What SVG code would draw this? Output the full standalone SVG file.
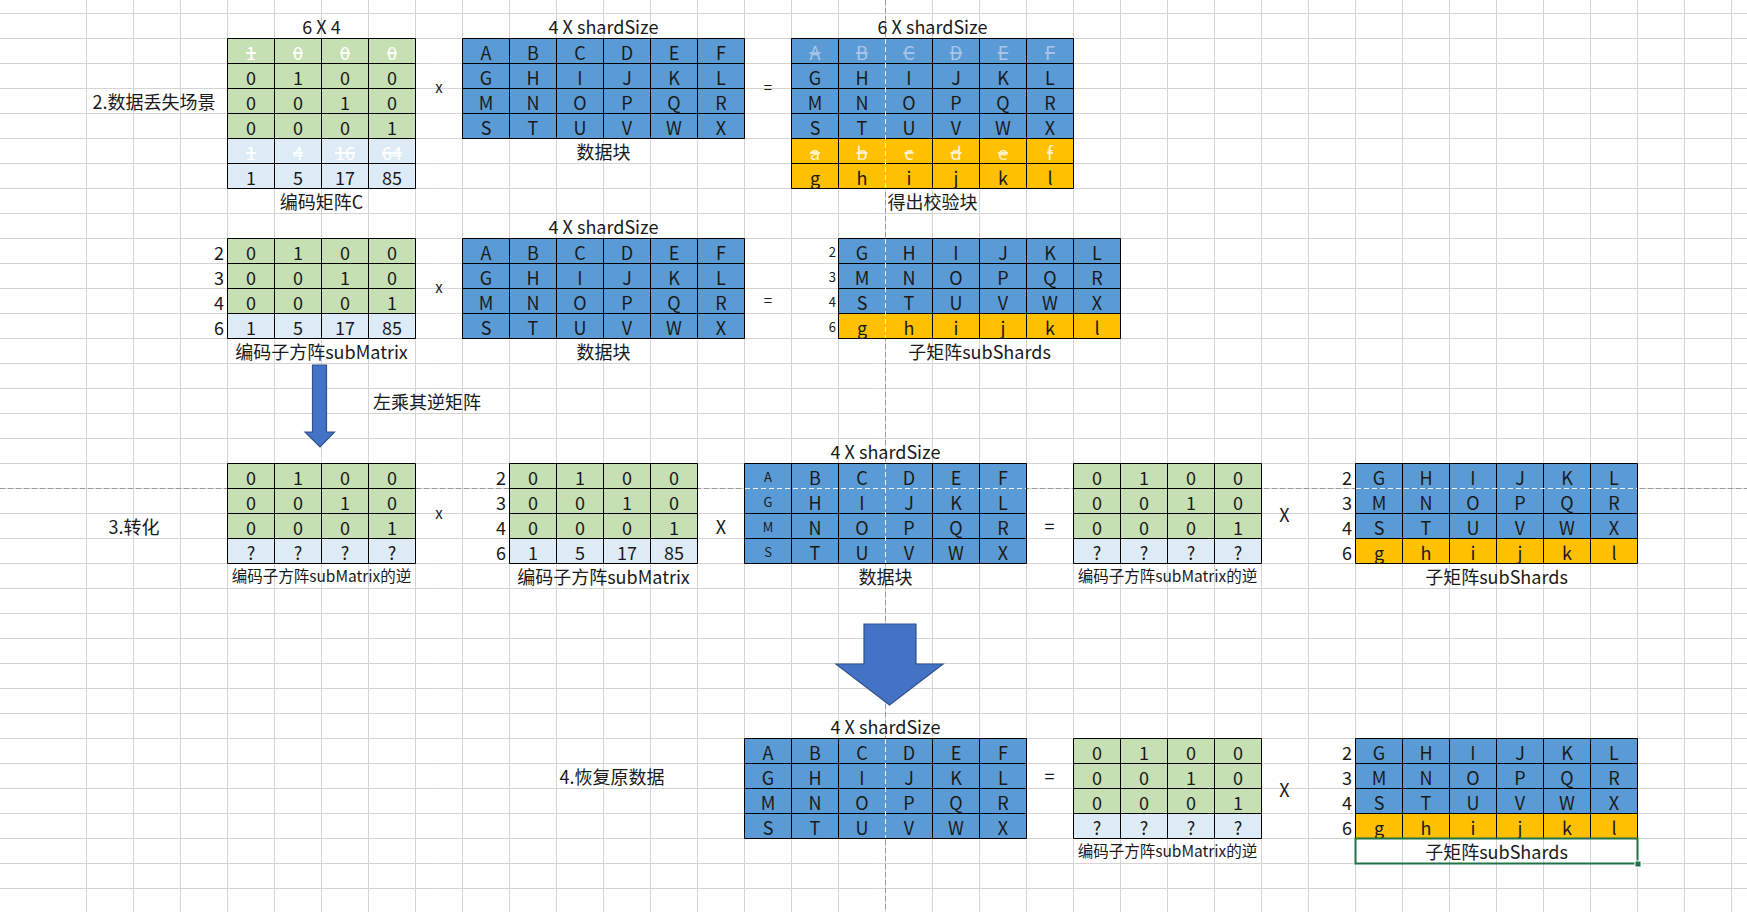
<svg xmlns="http://www.w3.org/2000/svg" width="1747" height="912" viewBox="0 0 1747 912">
<style>
text{font-family:"Noto Sans CJK SC","Noto Sans",sans-serif;font-size:18px;fill:#1a1a1a;text-anchor:middle}
.g{fill:#C6E0B4}.lb{fill:#DDEBF7}.b{fill:#5B9BD5}.o{fill:#FFC000}
.bd{fill:none;stroke:#000;stroke-width:1}
.wd{fill:none;stroke:#f2f2f2;stroke-width:1;stroke-dasharray:5 3}
.st{text-decoration:line-through}
text.w{fill:#ffffff}text.lt{fill:#a9c6ea}text.lo{fill:#fff4d6}
text.sm{font-size:15.5px}text.xs{font-size:13px}text.op{font-size:15px}
text.r{text-anchor:end}text.l{text-anchor:start}
.arr{fill:#4472C4;stroke:#2F528F;stroke-width:1.2}
</style>
<defs>
<pattern id="gh" x="0" y="13" width="1747" height="25" patternUnits="userSpaceOnUse"><path d="M0 0.5H1747" stroke="#d4d4d4" stroke-width="1"/></pattern>
<pattern id="gv" x="86" y="0" width="47" height="912" patternUnits="userSpaceOnUse"><path d="M0.5 0V912" stroke="#d4d4d4" stroke-width="1"/></pattern>
</defs>
<rect width="1747" height="912" fill="#ffffff"/>
<rect width="1747" height="912" fill="url(#gh)"/>
<rect x="86" width="1661" height="912" fill="url(#gv)"/>
<path d="M885.5 0V912M0 488.5H1747" fill="none" stroke="#9a9a9a" stroke-width="1" stroke-dasharray="5 3"/>

<!-- Section labels -->
<text x="154" y="108.5">2.数据丢失场景</text>
<text x="134" y="534">3.转化</text>
<text x="612" y="784">4.恢复原数据</text>
<text class="l" x="373" y="409">左乘其逆矩阵</text>

<!-- Section 1 -->
<g id="m1C">
<rect class="g" x="227.5" y="38.5" width="188" height="100"/>
<rect class="lb" x="227.5" y="138.5" width="188" height="50"/>
<path class="bd" d="M227.5 38.5H415.5V188.5H227.5Z M274.5 38.5V188.5 M321.5 38.5V188.5 M368.5 38.5V188.5 M227.5 63.5H415.5 M227.5 88.5H415.5 M227.5 113.5H415.5 M227.5 138.5H415.5 M227.5 163.5H415.5"/>
<text x="321.5" y="34">6 X 4</text>
<text class="st w" x="251" y="60">1</text><text class="st w" x="298" y="60">0</text><text class="st w" x="345" y="60">0</text><text class="st w" x="392" y="60">0</text>
<text x="251" y="85">0</text><text x="298" y="85">1</text><text x="345" y="85">0</text><text x="392" y="85">0</text>
<text x="251" y="110">0</text><text x="298" y="110">0</text><text x="345" y="110">1</text><text x="392" y="110">0</text>
<text x="251" y="135">0</text><text x="298" y="135">0</text><text x="345" y="135">0</text><text x="392" y="135">1</text>
<text class="st w" x="251" y="160">1</text><text class="st w" x="298" y="160">4</text><text class="st w" x="345" y="160">16</text><text class="st w" x="392" y="160">64</text>
<text x="251" y="185">1</text><text x="298" y="185">5</text><text x="345" y="185">17</text><text x="392" y="185">85</text>
<text x="321.5" y="209">编码矩阵C</text>
</g>
<g id="m1D">
<rect class="b" x="462.5" y="38.5" width="282" height="100"/>
<path class="bd" d="M462.5 38.5H744.5V138.5H462.5Z M509.5 38.5V138.5 M556.5 38.5V138.5 M603.5 38.5V138.5 M650.5 38.5V138.5 M697.5 38.5V138.5 M462.5 63.5H744.5 M462.5 88.5H744.5 M462.5 113.5H744.5"/>
<text x="603.5" y="34">4 X shardSize</text>
<text x="486" y="60">A</text><text x="533" y="60">B</text><text x="580" y="60">C</text><text x="627" y="60">D</text><text x="674" y="60">E</text><text x="721" y="60">F</text>
<text x="486" y="85">G</text><text x="533" y="85">H</text><text x="580" y="85">I</text><text x="627" y="85">J</text><text x="674" y="85">K</text><text x="721" y="85">L</text>
<text x="486" y="110">M</text><text x="533" y="110">N</text><text x="580" y="110">O</text><text x="627" y="110">P</text><text x="674" y="110">Q</text><text x="721" y="110">R</text>
<text x="486" y="135">S</text><text x="533" y="135">T</text><text x="580" y="135">U</text><text x="627" y="135">V</text><text x="674" y="135">W</text><text x="721" y="135">X</text>
<text x="603.5" y="159">数据块</text>
</g>
<g id="m1R">
<rect class="b" x="791.5" y="38.5" width="282" height="100"/>
<rect class="o" x="791.5" y="138.5" width="282" height="50"/>
<path class="bd" d="M791.5 38.5H1073.5V188.5H791.5Z M838.5 38.5V188.5 M932.5 38.5V188.5 M979.5 38.5V188.5 M1026.5 38.5V188.5 M791.5 63.5H1073.5 M791.5 88.5H1073.5 M791.5 113.5H1073.5 M791.5 138.5H1073.5 M791.5 163.5H1073.5"/>
<path class="wd" d="M885.5 39V188"/>
<text x="932.5" y="34">6 X shardSize</text>
<text class="st lt" x="815" y="60">A</text><text class="st lt" x="862" y="60">B</text><text class="st lt" x="909" y="60">C</text><text class="st lt" x="956" y="60">D</text><text class="st lt" x="1003" y="60">E</text><text class="st lt" x="1050" y="60">F</text>
<text x="815" y="85">G</text><text x="862" y="85">H</text><text x="909" y="85">I</text><text x="956" y="85">J</text><text x="1003" y="85">K</text><text x="1050" y="85">L</text>
<text x="815" y="110">M</text><text x="862" y="110">N</text><text x="909" y="110">O</text><text x="956" y="110">P</text><text x="1003" y="110">Q</text><text x="1050" y="110">R</text>
<text x="815" y="135">S</text><text x="862" y="135">T</text><text x="909" y="135">U</text><text x="956" y="135">V</text><text x="1003" y="135">W</text><text x="1050" y="135">X</text>
<text class="st lo" x="815" y="160">a</text><text class="st lo" x="862" y="160">b</text><text class="st lo" x="909" y="160">c</text><text class="st lo" x="956" y="160">d</text><text class="st lo" x="1003" y="160">e</text><text class="st lo" x="1050" y="160">f</text>
<text x="815" y="185">g</text><text x="862" y="185">h</text><text x="909" y="185">i</text><text x="956" y="185">j</text><text x="1003" y="185">k</text><text x="1050" y="185">l</text>
<text x="932.5" y="209">得出校验块</text>
</g>
<g id="ops1">
<text class="op" x="439" y="93">x</text>
<text class="op" x="768" y="93">=</text>
</g>

<!-- Section 2 -->
<g id="m2S">
<rect class="g" x="227.5" y="238.5" width="188" height="75"/>
<rect class="lb" x="227.5" y="313.5" width="188" height="25"/>
<path class="bd" d="M227.5 238.5H415.5V338.5H227.5Z M274.5 238.5V338.5 M321.5 238.5V338.5 M368.5 238.5V338.5 M227.5 263.5H415.5 M227.5 288.5H415.5 M227.5 313.5H415.5"/>
<text class="r" x="224" y="260">2</text><text class="r" x="224" y="285">3</text><text class="r" x="224" y="310">4</text><text class="r" x="224" y="335">6</text>
<text x="251" y="260">0</text><text x="298" y="260">1</text><text x="345" y="260">0</text><text x="392" y="260">0</text>
<text x="251" y="285">0</text><text x="298" y="285">0</text><text x="345" y="285">1</text><text x="392" y="285">0</text>
<text x="251" y="310">0</text><text x="298" y="310">0</text><text x="345" y="310">0</text><text x="392" y="310">1</text>
<text x="251" y="335">1</text><text x="298" y="335">5</text><text x="345" y="335">17</text><text x="392" y="335">85</text>
<text x="321.5" y="359">编码子方阵subMatrix</text>
</g>
<g id="m2D">
<rect class="b" x="462.5" y="238.5" width="282" height="100"/>
<path class="bd" d="M462.5 238.5H744.5V338.5H462.5Z M509.5 238.5V338.5 M556.5 238.5V338.5 M603.5 238.5V338.5 M650.5 238.5V338.5 M697.5 238.5V338.5 M462.5 263.5H744.5 M462.5 288.5H744.5 M462.5 313.5H744.5"/>
<text x="603.5" y="234">4 X shardSize</text>
<text x="486" y="260">A</text><text x="533" y="260">B</text><text x="580" y="260">C</text><text x="627" y="260">D</text><text x="674" y="260">E</text><text x="721" y="260">F</text>
<text x="486" y="285">G</text><text x="533" y="285">H</text><text x="580" y="285">I</text><text x="627" y="285">J</text><text x="674" y="285">K</text><text x="721" y="285">L</text>
<text x="486" y="310">M</text><text x="533" y="310">N</text><text x="580" y="310">O</text><text x="627" y="310">P</text><text x="674" y="310">Q</text><text x="721" y="310">R</text>
<text x="486" y="335">S</text><text x="533" y="335">T</text><text x="580" y="335">U</text><text x="627" y="335">V</text><text x="674" y="335">W</text><text x="721" y="335">X</text>
<text x="603.5" y="359">数据块</text>
</g>
<g id="m2R">
<rect class="b" x="838.5" y="238.5" width="282" height="75"/>
<rect class="o" x="838.5" y="313.5" width="282" height="25"/>
<path class="bd" d="M838.5 238.5H1120.5V338.5H838.5Z M932.5 238.5V338.5 M979.5 238.5V338.5 M1026.5 238.5V338.5 M1073.5 238.5V338.5 M838.5 263.5H1120.5 M838.5 288.5H1120.5 M838.5 313.5H1120.5"/>
<path class="wd" d="M885.5 239V338"/>
<text class="r xs" x="836" y="256.5">2</text><text class="r xs" x="836" y="281.5">3</text><text class="r xs" x="836" y="306.5">4</text><text class="r xs" x="836" y="331.5">6</text>
<text x="862" y="260">G</text><text x="909" y="260">H</text><text x="956" y="260">I</text><text x="1003" y="260">J</text><text x="1050" y="260">K</text><text x="1097" y="260">L</text>
<text x="862" y="285">M</text><text x="909" y="285">N</text><text x="956" y="285">O</text><text x="1003" y="285">P</text><text x="1050" y="285">Q</text><text x="1097" y="285">R</text>
<text x="862" y="310">S</text><text x="909" y="310">T</text><text x="956" y="310">U</text><text x="1003" y="310">V</text><text x="1050" y="310">W</text><text x="1097" y="310">X</text>
<text x="862" y="335">g</text><text x="909" y="335">h</text><text x="956" y="335">i</text><text x="1003" y="335">j</text><text x="1050" y="335">k</text><text x="1097" y="335">l</text>
<text x="979.5" y="359">子矩阵subShards</text>
</g>
<g id="ops2">
<text class="op" x="439" y="293">x</text>
<text class="op" x="768" y="306">=</text>
</g>

<!-- Section 3 -->
<g id="m3I">
<rect class="g" x="227.5" y="463.5" width="188" height="75"/>
<rect class="lb" x="227.5" y="538.5" width="188" height="25"/>
<path class="bd" d="M227.5 463.5H415.5V563.5H227.5Z M274.5 463.5V563.5 M321.5 463.5V563.5 M368.5 463.5V563.5 M227.5 488.5H415.5 M227.5 513.5H415.5 M227.5 538.5H415.5"/>
<text x="251" y="485">0</text><text x="298" y="485">1</text><text x="345" y="485">0</text><text x="392" y="485">0</text>
<text x="251" y="510">0</text><text x="298" y="510">0</text><text x="345" y="510">1</text><text x="392" y="510">0</text>
<text x="251" y="535">0</text><text x="298" y="535">0</text><text x="345" y="535">0</text><text x="392" y="535">1</text>
<text x="251" y="560">?</text><text x="298" y="560">?</text><text x="345" y="560">?</text><text x="392" y="560">?</text>
<text class="sm" x="321.5" y="582">编码子方阵subMatrix的逆</text>
</g>
<g id="m3S">
<rect class="g" x="509.5" y="463.5" width="188" height="75"/>
<rect class="lb" x="509.5" y="538.5" width="188" height="25"/>
<path class="bd" d="M509.5 463.5H697.5V563.5H509.5Z M556.5 463.5V563.5 M603.5 463.5V563.5 M650.5 463.5V563.5 M509.5 488.5H697.5 M509.5 513.5H697.5 M509.5 538.5H697.5"/>
<text class="r" x="506" y="485">2</text><text class="r" x="506" y="510">3</text><text class="r" x="506" y="535">4</text><text class="r" x="506" y="560">6</text>
<text x="533" y="485">0</text><text x="580" y="485">1</text><text x="627" y="485">0</text><text x="674" y="485">0</text>
<text x="533" y="510">0</text><text x="580" y="510">0</text><text x="627" y="510">1</text><text x="674" y="510">0</text>
<text x="533" y="535">0</text><text x="580" y="535">0</text><text x="627" y="535">0</text><text x="674" y="535">1</text>
<text x="533" y="560">1</text><text x="580" y="560">5</text><text x="627" y="560">17</text><text x="674" y="560">85</text>
<text x="603.5" y="584">编码子方阵subMatrix</text>
</g>
<g id="m3D">
<rect class="b" x="744.5" y="463.5" width="282" height="100"/>
<path class="bd" d="M744.5 463.5H1026.5V563.5H744.5Z M791.5 463.5V563.5 M838.5 463.5V563.5 M932.5 463.5V563.5 M979.5 463.5V563.5 M744.5 513.5H1026.5 M744.5 538.5H1026.5"/>
<path class="wd" d="M885.5 464V563 M745 488.5H1026"/>
<text x="885.5" y="459">4 X shardSize</text>
<text class="xs" x="768" y="482">A</text><text x="815" y="485">B</text><text x="862" y="485">C</text><text x="909" y="485">D</text><text x="956" y="485">E</text><text x="1003" y="485">F</text>
<text class="xs" x="768" y="507">G</text><text x="815" y="510">H</text><text x="862" y="510">I</text><text x="909" y="510">J</text><text x="956" y="510">K</text><text x="1003" y="510">L</text>
<text class="xs" x="768" y="532">M</text><text x="815" y="535">N</text><text x="862" y="535">O</text><text x="909" y="535">P</text><text x="956" y="535">Q</text><text x="1003" y="535">R</text>
<text class="xs" x="768" y="557">S</text><text x="815" y="560">T</text><text x="862" y="560">U</text><text x="909" y="560">V</text><text x="956" y="560">W</text><text x="1003" y="560">X</text>
<text x="885.5" y="584">数据块</text>
</g>
<g id="m3J">
<rect class="g" x="1073.5" y="463.5" width="188" height="75"/>
<rect class="lb" x="1073.5" y="538.5" width="188" height="25"/>
<path class="bd" d="M1073.5 463.5H1261.5V563.5H1073.5Z M1120.5 463.5V563.5 M1167.5 463.5V563.5 M1214.5 463.5V563.5 M1073.5 488.5H1261.5 M1073.5 513.5H1261.5 M1073.5 538.5H1261.5"/>
<text x="1097" y="485">0</text><text x="1144" y="485">1</text><text x="1191" y="485">0</text><text x="1238" y="485">0</text>
<text x="1097" y="510">0</text><text x="1144" y="510">0</text><text x="1191" y="510">1</text><text x="1238" y="510">0</text>
<text x="1097" y="535">0</text><text x="1144" y="535">0</text><text x="1191" y="535">0</text><text x="1238" y="535">1</text>
<text x="1097" y="560">?</text><text x="1144" y="560">?</text><text x="1191" y="560">?</text><text x="1238" y="560">?</text>
<text class="sm" x="1167.5" y="582">编码子方阵subMatrix的逆</text>
</g>
<g id="m3R">
<rect class="b" x="1355.5" y="463.5" width="282" height="75"/>
<rect class="o" x="1355.5" y="538.5" width="282" height="25"/>
<path class="bd" d="M1355.5 463.5H1637.5V563.5H1355.5Z M1402.5 463.5V563.5 M1449.5 463.5V563.5 M1496.5 463.5V563.5 M1543.5 463.5V563.5 M1590.5 463.5V563.5 M1355.5 513.5H1637.5 M1355.5 538.5H1637.5"/>
<path class="wd" d="M1356 488.5H1637"/>
<text class="r" x="1352" y="485">2</text><text class="r" x="1352" y="510">3</text><text class="r" x="1352" y="535">4</text><text class="r" x="1352" y="560">6</text>
<text x="1379" y="485">G</text><text x="1426" y="485">H</text><text x="1473" y="485">I</text><text x="1520" y="485">J</text><text x="1567" y="485">K</text><text x="1614" y="485">L</text>
<text x="1379" y="510">M</text><text x="1426" y="510">N</text><text x="1473" y="510">O</text><text x="1520" y="510">P</text><text x="1567" y="510">Q</text><text x="1614" y="510">R</text>
<text x="1379" y="535">S</text><text x="1426" y="535">T</text><text x="1473" y="535">U</text><text x="1520" y="535">V</text><text x="1567" y="535">W</text><text x="1614" y="535">X</text>
<text x="1379" y="560">g</text><text x="1426" y="560">h</text><text x="1473" y="560">i</text><text x="1520" y="560">j</text><text x="1567" y="560">k</text><text x="1614" y="560">l</text>
<text x="1496.5" y="584">子矩阵subShards</text>
</g>
<g id="ops3">
<text class="op" x="439" y="519">x</text>
<text x="721" y="533.5">X</text>
<text x="1049.5" y="532.5">=</text>
<text x="1284.5" y="521.5">X</text>
</g>

<!-- Section 4 -->
<g id="m4D">
<rect class="b" x="744.5" y="738.5" width="282" height="100"/>
<path class="bd" d="M744.5 738.5H1026.5V838.5H744.5Z M791.5 738.5V838.5 M838.5 738.5V838.5 M932.5 738.5V838.5 M979.5 738.5V838.5 M744.5 763.5H1026.5 M744.5 788.5H1026.5 M744.5 813.5H1026.5"/>
<path class="wd" d="M885.5 739V838"/>
<text x="885.5" y="734">4 X shardSize</text>
<text x="768" y="760">A</text><text x="815" y="760">B</text><text x="862" y="760">C</text><text x="909" y="760">D</text><text x="956" y="760">E</text><text x="1003" y="760">F</text>
<text x="768" y="785">G</text><text x="815" y="785">H</text><text x="862" y="785">I</text><text x="909" y="785">J</text><text x="956" y="785">K</text><text x="1003" y="785">L</text>
<text x="768" y="810">M</text><text x="815" y="810">N</text><text x="862" y="810">O</text><text x="909" y="810">P</text><text x="956" y="810">Q</text><text x="1003" y="810">R</text>
<text x="768" y="835">S</text><text x="815" y="835">T</text><text x="862" y="835">U</text><text x="909" y="835">V</text><text x="956" y="835">W</text><text x="1003" y="835">X</text>
</g>
<g id="m4I">
<rect class="g" x="1073.5" y="738.5" width="188" height="75"/>
<rect class="lb" x="1073.5" y="813.5" width="188" height="25"/>
<path class="bd" d="M1073.5 738.5H1261.5V838.5H1073.5Z M1120.5 738.5V838.5 M1167.5 738.5V838.5 M1214.5 738.5V838.5 M1073.5 763.5H1261.5 M1073.5 788.5H1261.5 M1073.5 813.5H1261.5"/>
<text x="1097" y="760">0</text><text x="1144" y="760">1</text><text x="1191" y="760">0</text><text x="1238" y="760">0</text>
<text x="1097" y="785">0</text><text x="1144" y="785">0</text><text x="1191" y="785">1</text><text x="1238" y="785">0</text>
<text x="1097" y="810">0</text><text x="1144" y="810">0</text><text x="1191" y="810">0</text><text x="1238" y="810">1</text>
<text x="1097" y="835">?</text><text x="1144" y="835">?</text><text x="1191" y="835">?</text><text x="1238" y="835">?</text>
<text class="sm" x="1167.5" y="857">编码子方阵subMatrix的逆</text>
</g>
<g id="m4R">
<rect class="b" x="1355.5" y="738.5" width="282" height="75"/>
<rect class="o" x="1355.5" y="813.5" width="282" height="25"/>
<path class="bd" d="M1355.5 738.5H1637.5V838.5H1355.5Z M1402.5 738.5V838.5 M1449.5 738.5V838.5 M1496.5 738.5V838.5 M1543.5 738.5V838.5 M1590.5 738.5V838.5 M1355.5 763.5H1637.5 M1355.5 788.5H1637.5 M1355.5 813.5H1637.5"/>
<text class="r" x="1352" y="760">2</text><text class="r" x="1352" y="785">3</text><text class="r" x="1352" y="810">4</text><text class="r" x="1352" y="835">6</text>
<text x="1379" y="760">G</text><text x="1426" y="760">H</text><text x="1473" y="760">I</text><text x="1520" y="760">J</text><text x="1567" y="760">K</text><text x="1614" y="760">L</text>
<text x="1379" y="785">M</text><text x="1426" y="785">N</text><text x="1473" y="785">O</text><text x="1520" y="785">P</text><text x="1567" y="785">Q</text><text x="1614" y="785">R</text>
<text x="1379" y="810">S</text><text x="1426" y="810">T</text><text x="1473" y="810">U</text><text x="1520" y="810">V</text><text x="1567" y="810">W</text><text x="1614" y="810">X</text>
<text x="1379" y="835">g</text><text x="1426" y="835">h</text><text x="1473" y="835">i</text><text x="1520" y="835">j</text><text x="1567" y="835">k</text><text x="1614" y="835">l</text>
<rect x="1355.5" y="838.5" width="282" height="25" fill="none" stroke="#217346" stroke-width="2"/>
<rect x="1635" y="861" width="6" height="6" fill="#217346" stroke="#ffffff" stroke-width="1"/>
<text x="1496.5" y="859">子矩阵subShards</text>
</g>
<g id="ops4">
<text x="1049.5" y="782.5">=</text>
<text x="1284.5" y="796.5">X</text>
</g>

<!-- Arrows -->
<g id="connectors">
<path class="arr" d="M312.5 365H326.5V432H334.5L320 447L305 432H312.5Z"/>
<path class="arr" d="M864 624H916V664H943L889.5 705L836 664H864Z"/>
</g>
</svg>
